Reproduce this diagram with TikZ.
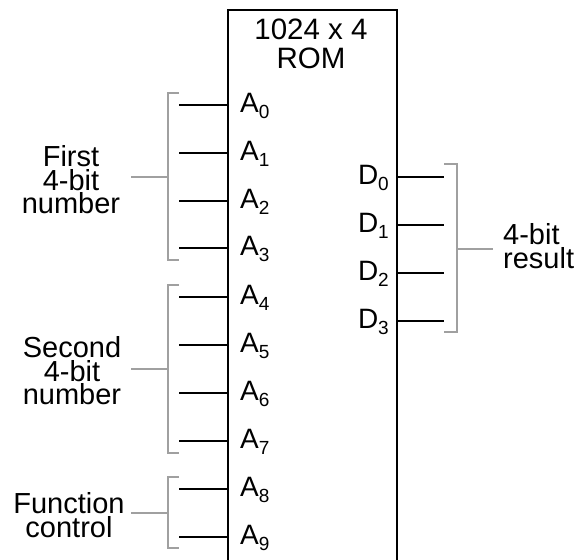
\documentclass[tikz,border=0pt]{standalone}
\usepackage{fontspec}
\setmainfont{Liberation Sans}
\usetikzlibrary{positioning}
\definecolor{bracegray}{RGB}{160,160,160}
\newcommand{\pinsub}[1]{\raisebox{-6pt}{\fontsize{19}{19}\selectfont #1}}

\begin{document}
\begin{tikzpicture}[x=1pt, y=-1pt,
  wire/.style={line width=1.8pt},
  brk/.style={line width=1.8pt, draw=bracegray},
  romlbl/.style={font=\fontsize{29.5}{29}\selectfont, align=center, inner sep=0pt},
  grplbl/.style={font=\fontsize{29}{23.5}\selectfont, align=center, inner sep=0pt},
  pinlbl/.style={font=\fontsize{28}{28}\selectfont, inner sep=0pt}
]
\clip (0,0) rectangle (579,560);
\node[draw, line width=1.6pt, minimum width=169pt, minimum height=570pt, anchor=north west, inner sep=0pt] (rom) at (227,9) {};
\node[romlbl] (title) at (311,44) {1024 x 4\\ROM};

% address inputs
\node[pinlbl, anchor=base west] (a0) at (240,112) {A\pinsub{0}};
\node[pinlbl, anchor=base west] (a1) at (240,160) {A\pinsub{1}};
\node[pinlbl, anchor=base west] (a2) at (240,208) {A\pinsub{2}};
\node[pinlbl, anchor=base west] (a3) at (240,255) {A\pinsub{3}};
\node[pinlbl, anchor=base west] (a4) at (240,304) {A\pinsub{4}};
\node[pinlbl, anchor=base west] (a5) at (240,352) {A\pinsub{5}};
\node[pinlbl, anchor=base west] (a6) at (240,400) {A\pinsub{6}};
\node[pinlbl, anchor=base west] (a7) at (240,448) {A\pinsub{7}};
\node[pinlbl, anchor=base west] (a8) at (240,496) {A\pinsub{8}};
\node[pinlbl, anchor=base west] (a9) at (240,544) {A\pinsub{9}};

\coordinate (a0in) at (179,105);
\coordinate (a1in) at (179,153);
\coordinate (a2in) at (179,201);
\coordinate (a3in) at (179,248);
\coordinate (a4in) at (179,297);
\coordinate (a5in) at (179,345);
\coordinate (a6in) at (179,393);
\coordinate (a7in) at (179,441);
\coordinate (a8in) at (179,489);
\coordinate (a9in) at (179,537);

\draw[wire] (a0in) -- (a0in -| rom.west);
\draw[wire] (a1in) -- (a1in -| rom.west);
\draw[wire] (a2in) -- (a2in -| rom.west);
\draw[wire] (a3in) -- (a3in -| rom.west);
\draw[wire] (a4in) -- (a4in -| rom.west);
\draw[wire] (a5in) -- (a5in -| rom.west);
\draw[wire] (a6in) -- (a6in -| rom.west);
\draw[wire] (a7in) -- (a7in -| rom.west);
\draw[wire] (a8in) -- (a8in -| rom.west);
\draw[wire] (a9in) -- (a9in -| rom.west);

% data outputs
\node[pinlbl, anchor=base east] (d0) at (389,184) {D\pinsub{0}};
\node[pinlbl, anchor=base east] (d1) at (389,232) {D\pinsub{1}};
\node[pinlbl, anchor=base east] (d2) at (389,280) {D\pinsub{2}};
\node[pinlbl, anchor=base east] (d3) at (389,328) {D\pinsub{3}};

\coordinate (d0out) at (444,177);
\coordinate (d1out) at (444,225);
\coordinate (d2out) at (444,273);
\coordinate (d3out) at (444,321);

\draw[wire] (d0out -| rom.east) -- (d0out);
\draw[wire] (d1out -| rom.east) -- (d1out);
\draw[wire] (d2out -| rom.east) -- (d2out);
\draw[wire] (d3out -| rom.east) -- (d3out);

% group labels and brackets
\node[grplbl] (first) at (71,180) {First\\4-bit\\number};
\node[grplbl] (second) at (72,371) {Second\\4-bit\\number};
\node[grplbl] (func) at (69,515) {Function\\control};
\node[grplbl, align=left, anchor=west] (result) at (503,246) {4-bit\\result};

\coordinate (g1) at (168,177);
\coordinate (g2) at (168,369);
\coordinate (g3) at (168,513);
\coordinate (g4) at (457,249);

\draw[brk] (179,93) -| (168,260) -- (179,260);
\draw[brk] (179,285) -| (168,453) -- (179,453);
\draw[brk] (179,477) -| (168,548) -- (179,548);
\draw[brk] (444,164) -| (457,332) -- (444,332);

\draw[brk] (131,177) -- (g1);
\draw[brk] (131,369) -- (g2);
\draw[brk] (131,513) -- (g3);
\draw[brk] (g4) -- (493,249);
\end{tikzpicture}
\end{document}
